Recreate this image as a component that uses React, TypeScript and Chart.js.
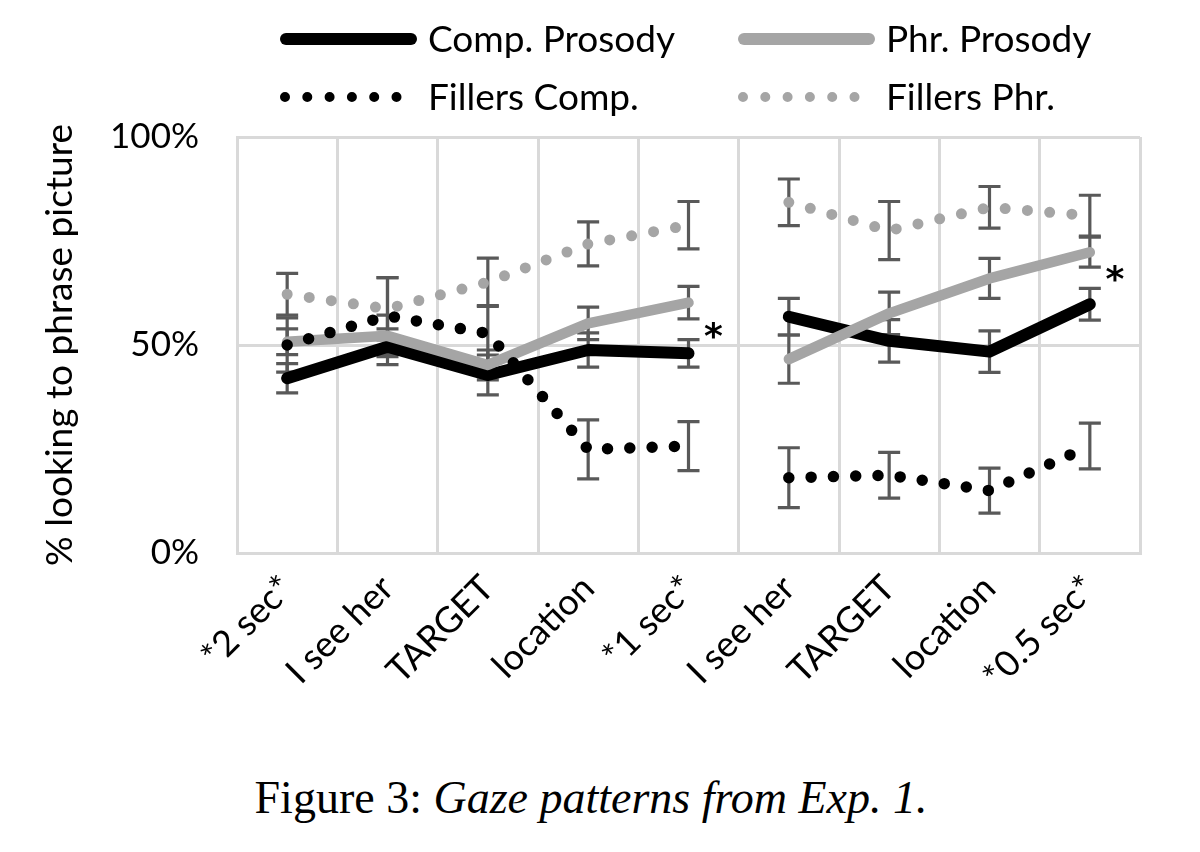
import React, { useEffect, useRef } from 'react';
import { Chart, registerables } from 'chart.js';

Chart.register(...registerables);

// ---------- data ----------
const categories = ['*2 sec*', 'I see her', 'TARGET', 'location', '*1 sec*', 'I see her', 'TARGET', 'location', '*0.5 sec*'];

const seriesLabels = ['Comp. Prosody', 'Phr. Prosody', 'Fillers Comp.', 'Fillers Phr.'];

const compProsody = [42.0, 49.6, 42.8, 48.8, 48.0, 56.8, 51.0, 48.4, 59.8];
const compProsodyErr = [3.5, 4.3, 4.8, 4.1, 3.3, 4.4, 5.1, 5.0, 3.8];

const phrProsody = [50.8, 52.2, 45.2, 55.2, 60.2, 46.6, 57.6, 66.0, 72.3];
const phrProsodyErr = [3.1, 5.0, 3.6, 3.9, 3.9, 5.8, 5.1, 4.8, 3.6];

const fillersComp = [50.0, 57.0, 52.8, 24.9, 25.7, 18.1, 18.7, 15.0, 25.7];
const fillersCompErr = [6.5, 9.2, 6.7, 7.1, 5.9, 7.2, 5.5, 5.4, 5.5];

const fillersPhr = [62.2, 58.7, 65.1, 74.3, 78.8, 84.3, 77.5, 83.1, 81.1];
const fillersPhrErr = [5.0, 7.5, 5.8, 5.3, 5.7, 5.6, 7.0, 5.0, 4.9];

const yTicks = [0, 50, 100];
const breakAfterIndex = 4; // lines are not joined between "*1 sec*" and the second "I see her"

const starIndices = [4, 8];
const starValues = [49.2, 63.1];

// ---------- styles ----------
const FONT = 'Lato';
const BLACK = '#000000';
const GRAY = '#a5a5a5';
const GRID = '#d9d9d9';
const ERR = '#595959';

const errorBarPlugin = {
  id: 'errorBars',
  beforeDatasetsDraw(chart: any) {
    const { ctx } = chart;
    const xs = chart.scales.x;
    const ys = chart.scales.y;
    ctx.save();
    ctx.strokeStyle = ERR;
    ctx.lineWidth = 3.2;
    ctx.lineCap = 'butt';
    chart.data.datasets.forEach((ds: any) => {
      const errs: number[] = ds.errors || [];
      ds.data.forEach((v: number, j: number) => {
        const e = errs[j];
        if (e == null) return;
        const x = xs.getPixelForValue(j);
        const yt = ys.getPixelForValue(v + e);
        const yb = ys.getPixelForValue(v - e);
        ctx.beginPath();
        ctx.moveTo(x, yt);
        ctx.lineTo(x, yb);
        ctx.moveTo(x - 11, yt);
        ctx.lineTo(x + 11, yt);
        ctx.moveTo(x - 11, yb);
        ctx.lineTo(x + 11, yb);
        ctx.stroke();
      });
    });
    ctx.restore();
  },
};

const starPlugin = {
  id: 'stars',
  afterDatasetsDraw(chart: any) {
    const { ctx } = chart;
    const xs = chart.scales.x;
    const ys = chart.scales.y;
    ctx.save();
    ctx.fillStyle = BLACK;
    ctx.font = 'bold 36px "DejaVu Sans"';
    ctx.textAlign = 'center';
    ctx.textBaseline = 'alphabetic';
    starIndices.forEach((idx, k) => {
      ctx.fillText('*', xs.getPixelForValue(idx) + 25, ys.getPixelForValue(starValues[k]));
    });
    ctx.restore();
  },
};

const legendPlugin = {
  id: 'gridLegend',
  afterDraw(chart: any) {
    const { ctx } = chart;
    const colX = [280, 738];
    const rowY = [39, 97];
    ctx.save();
    chart.data.datasets.forEach((ds: any, i: number) => {
      const col = i % 2;
      const row = Math.floor(i / 2);
      const x0 = colX[col];
      const y = rowY[row];
      ctx.strokeStyle = ds.borderColor;
      ctx.lineCap = 'round';
      ctx.beginPath();
      if (ds.borderDash && ds.borderDash.length) {
        ctx.lineWidth = 10;
        ctx.setLineDash(ds.borderDash);
        ctx.moveTo(x0 + 5, y);
        ctx.lineTo(x0 + 5 + 112, y);
      } else {
        ctx.lineWidth = 12;
        ctx.setLineDash([]);
        ctx.moveTo(x0 + 6, y);
        ctx.lineTo(x0 + 131, y);
      }
      ctx.stroke();
      ctx.setLineDash([]);
      ctx.fillStyle = BLACK;
      ctx.font = `37px ${FONT}`;
      ctx.textAlign = 'left';
      ctx.textBaseline = 'middle';
      ctx.fillText(ds.label, x0 + 148, y + 1);
    });
    ctx.restore();
  },
};

const gapSegment = (color: string) => ({
  borderColor: (c: any) => (c.p0DataIndex === breakAfterIndex ? 'rgba(0,0,0,0)' : color),
});

export default function App() {
  const ref = useRef<HTMLCanvasElement | null>(null);

  useEffect(() => {
    if (!ref.current) return;
    Chart.defaults.font.family = FONT;
    const chart = new Chart(ref.current, {
      type: 'line',
      data: {
        labels: categories,
        datasets: [
          {
            label: seriesLabels[0],
            data: compProsody,
            errors: compProsodyErr,
            borderColor: BLACK,
            borderWidth: 12,
            borderJoinStyle: 'round',
            borderCapStyle: 'round',
            pointRadius: 0,
            order: 3,
            segment: gapSegment(BLACK),
          } as any,
          {
            label: seriesLabels[1],
            data: phrProsody,
            errors: phrProsodyErr,
            borderColor: GRAY,
            borderWidth: 10.5,
            borderJoinStyle: 'round',
            borderCapStyle: 'round',
            pointRadius: 0,
            order: 2,
            segment: gapSegment(GRAY),
          } as any,
          {
            label: seriesLabels[2],
            data: fillersComp,
            errors: fillersCompErr,
            borderColor: BLACK,
            borderWidth: 11.5,
            borderDash: [0, 22.3],
            borderCapStyle: 'round',
            pointRadius: 0,
            order: 1,
            segment: gapSegment(BLACK),
          } as any,
          {
            label: seriesLabels[3],
            data: fillersPhr,
            errors: fillersPhrErr,
            borderColor: GRAY,
            borderWidth: 11,
            borderDash: [0, 22.3],
            borderCapStyle: 'round',
            pointRadius: 0,
            order: 0,
            segment: gapSegment(GRAY),
          } as any,
        ],
      },
      options: {
        animation: false,
        responsive: false,
        layout: { padding: { top: 137, right: 60, left: 0, bottom: 0 } },
        plugins: {
          legend: { display: false },
          tooltip: { enabled: false },
        },
        scales: {
          x: {
            type: 'category',
            offset: true,
            grid: { offset: true, color: GRID, lineWidth: 3, drawTicks: false },
            border: { display: true, color: GRID, width: 3 },
            ticks: {
              color: BLACK,
              font: { size: 36, family: FONT },
              minRotation: 45,
              maxRotation: 45,
              autoSkip: false,
              padding: 14,
            },
            afterFit: (s: any) => {
              s.height = 207;
            },
          },
          y: {
            min: 0,
            max: 100,
            afterBuildTicks: (s: any) => {
              s.ticks = yTicks.map((v) => ({ value: v }));
            },
            grid: { color: GRID, lineWidth: 3, drawTicks: false },
            border: { display: true, color: GRID, width: 3 },
            ticks: {
              color: BLACK,
              font: { size: 35, family: FONT },
              padding: 38,
              callback: (v: any) => `${v}%`,
            },
            title: {
              display: true,
              text: '% looking to phrase picture',
              color: BLACK,
              font: { size: 37, family: FONT },
              padding: { top: 38, bottom: 0 },
            },
            afterFit: (s: any) => {
              s.width = 237;
            },
          },
        },
      } as any,
      plugins: [errorBarPlugin, starPlugin, legendPlugin],
    });
    return () => chart.destroy();
  }, []);

  return (
    <div style={{ position: 'fixed', left: 0, top: 0, width: 1200, height: 852, background: '#fff' }}>
      <canvas ref={ref} width={1200} height={760} style={{ display: 'block' }} />
      <div
        style={{
          position: 'absolute',
          left: 0,
          top: 771,
          width: 1182,
          textAlign: 'center',
          fontFamily: '"Liberation Serif", serif',
          fontSize: 46,
          lineHeight: '54px',
          color: '#000',
        }}
      >
        Figure 3: <i>Gaze patterns from Exp. 1.</i>
      </div>
    </div>
  );
}
